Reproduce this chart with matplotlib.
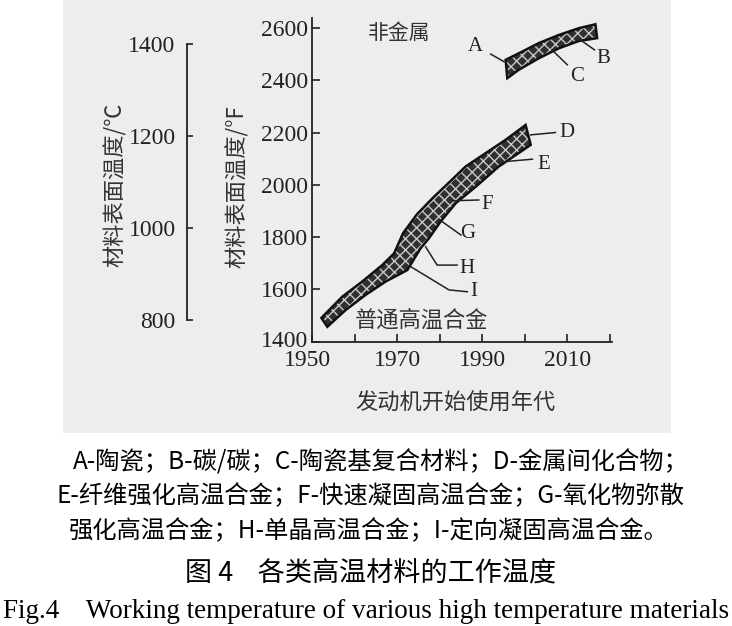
import numpy as np
import matplotlib
matplotlib.use('Agg')
import matplotlib.pyplot as plt
import matplotlib.transforms as mtransforms
from matplotlib.patches import Rectangle

cjk = ['Noto Sans CJK SC', 'DejaVu Sans']
serif = 'Liberation Serif'
ink = '#222222'

# ordinary superalloy band, year vs surface temperature (°F)
alloy_upper_year = [1952.2, 1957.1, 1961.8, 1966.5, 1969.3, 1971.4, 1974.7, 1978.7,
                    1982.6, 1986.1, 1990.8, 1995.5, 2000.2]
alloy_upper_temp = [1491, 1572, 1630, 1693, 1738, 1815, 1888, 1955,
                    2015, 2070, 2121, 2172, 2229]
alloy_lower_year = [1953.6, 1957.9, 1962.6, 1967.3, 1972.4, 1973.6, 1975.5, 1977.5,
                    1980.2, 1983.8, 1988.5, 1993.9, 1997.9, 2001.4]
alloy_lower_temp = [1457, 1521, 1579, 1630, 1674, 1706, 1757, 1796,
                    1859, 1930, 1993, 2070, 2114, 2153]

# non-metal band
ceramic_upper_year = [1995.5, 1998.6, 2003.3, 2008.0, 2012.7, 2016.6]
ceramic_upper_temp = [2478, 2503, 2542, 2573, 2599, 2614]
ceramic_lower_year = [1995.9, 1998.6, 2003.3, 2008.0, 2012.7, 2017.0]
ceramic_lower_temp = [2408, 2440, 2484, 2522, 2550, 2561]

# letter labels and their leader lines
labels = ['A', 'B', 'C', 'D', 'E', 'F', 'G', 'H', 'I']
label_pos = [(1988.4, 2528), (2018.4, 2484), (2012.3, 2414), (2010.0, 2199), (2004.5, 2076),
             (1991.2, 1923), (1986.5, 1815), (1986.5, 1681), (1988.1, 1591)]
leaders = [
    [(1992.0, 2500), (1995.1, 2471)],
    [(2013.1, 2554), (2016.4, 2516)],
    [(2006.4, 2516), (2010.0, 2459)],
    [(2001.4, 2191), (2007.2, 2200)],
    [(1995.5, 2089), (2001.8, 2098)],
    [(1983.0, 1939), (1989.2, 1942)],
    [(1980.6, 1859), (1985.0, 1808)],
    [(1976.7, 1763), (1979.4, 1693), (1984.1, 1693)],
    [(1973.2, 1687), (1982.2, 1598), (1986.5, 1591)],
]

year_ticks = [1950, 1960, 1970, 1980, 1990, 2000, 2010, 2020]
year_labels = ['1950', '', '1970', '', '1990', '', '2010', '']
f_ticks = [1400, 1600, 1800, 2000, 2200, 2400, 2600]
c_ticks = [800, 1000, 1200, 1400]

caption_lines = [
    'A-陶瓷；B-碳/碳；C-陶瓷基复合材料；D-金属间化合物；',
    'E-纤维强化高温合金；F-快速凝固高温合金；G-氧化物弥散',
    '强化高温合金；H-单晶高温合金；I-定向凝固高温合金。',
]
caption_x = [381, 370, 369]
title_cn = '图 4    各类高温材料的工作温度'
title_en = 'Fig.4    Working temperature of various high temperature materials'

W, H = 732, 626
fig = plt.figure(figsize=(W / 100, H / 100), dpi=100)
fig.patch.set_facecolor('white')
fig.patches.append(Rectangle((63 / W, 1 - 433 / H), (671 - 63) / W, 433 / H,
                             transform=fig.transFigure, facecolor='#ededed',
                             edgecolor='none', zorder=-5))

ax_bottom = 1 - 341.7 / H
ax_height = (341.7 - 18) / H
ax = fig.add_axes([312 / W, ax_bottom, 300 / W, ax_height])
ax.set_facecolor('none')
ax.set_xlim(1950, 2020.5)
ax.set_ylim(1400, 2638)
for s in ['top', 'right']:
    ax.spines[s].set_visible(False)
for s in ['left', 'bottom']:
    ax.spines[s].set_linewidth(1.3)
    ax.spines[s].set_color(ink)
ax.set_xticks(year_ticks)
ax.set_xticklabels(year_labels)
ax.set_yticks(f_ticks)
ax.tick_params(direction='in', length=6, width=1.2, color=ink, labelcolor=ink,
               labelsize=17)
ax.tick_params(axis='x', pad=6)
ax.tick_params(axis='y', pad=3)
for t in ax.get_xticklabels() + ax.get_yticklabels():
    t.set_family(serif)
# in the source the lowest °F label sits a little above its tick and 1950 a bit left
lift = mtransforms.ScaledTranslation(0, 3 / 100, fig.dpi_scale_trans)
ax.get_yticklabels()[0].set_transform(ax.get_yticklabels()[0].get_transform() + lift)
nudge = mtransforms.ScaledTranslation(-5 / 100, 0, fig.dpi_scale_trans)
ax.get_xticklabels()[0].set_transform(ax.get_xticklabels()[0].get_transform() + nudge)


def band(xu, yu, xl, yl):
    xs = list(xu) + list(xl[::-1])
    ys = list(yu) + list(yl[::-1])
    ax.fill(xs, ys, facecolor='#303030', edgecolor='#c8c8c8', hatch='xxx',
            linewidth=0, zorder=2)
    ax.fill(xs, ys, facecolor='none', edgecolor='#111111', linewidth=1.8, zorder=3)


band(alloy_upper_year, alloy_upper_temp, alloy_lower_year, alloy_lower_temp)
band(ceramic_upper_year, ceramic_upper_temp, ceramic_lower_year, ceramic_lower_temp)

for lab, pos, pts in zip(labels, label_pos, leaders):
    px, py = zip(*pts)
    ax.plot(px, py, color=ink, lw=1.1, zorder=4)
    ax.text(pos[0], pos[1], lab, family=serif, fontsize=15, color=ink,
            ha='center', va='center')

ax.text(1970.4, 2582, '非金属', family=cjk, fontsize=15, color='#333333',
        ha='center', va='center')
ax.text(1975.8, 1483, '普通高温合金', family=cjk, fontsize=16, color='#333333',
        ha='center', va='center')

# Celsius scale on the left
ax2 = fig.add_axes([186.7 / W, ax_bottom, 0.01, ax_height])
ax2.set_facecolor('none')
ax2.set_ylim(752.8, 1456.5)
for s in ['top', 'right', 'bottom']:
    ax2.spines[s].set_visible(False)
ax2.spines['left'].set_bounds(800, 1400)
ax2.spines['left'].set_linewidth(1.3)
ax2.spines['left'].set_color(ink)
ax2.set_xticks([])
ax2.set_yticks(c_ticks)
ax2.set_yticks([800, 1400], minor=True)
ax2.tick_params(axis='y', which='major', direction='in', length=4, width=1.2,
                color=ink, labelcolor=ink, labelsize=17, pad=8)
ax2.tick_params(axis='y', which='minor', direction='in', length=7, width=1.2,
                color=ink)
for t in ax2.get_yticklabels():
    t.set_family(serif)

fig.text(115 / W, 1 - 185 / H, '材料表面温度/℃', family=cjk, fontsize=16,
         color='#333333', rotation=90, ha='center', va='center')
fig.text(237 / W, 1 - 187 / H, '材料表面温度/°F', family=cjk, fontsize=16,
         color='#333333', rotation=90, ha='center', va='center')
fig.text(455 / W, 1 - 403 / H, '发动机开始使用年代', family=cjk, fontsize=16,
         color='#333333', ha='center', va='center')

# caption
for i, line in enumerate(caption_lines):
    fig.text(caption_x[i] / W, 1 - (462 + 34.5 * i) / H, line, family=cjk,
             fontsize=17.5, color='black', ha='center', va='center')
fig.text(371 / W, 1 - 574 / H, title_cn, family=cjk, fontsize=19.5,
         color='black', ha='center', va='center')
fig.text(366 / W, 1 - 612 / H, title_en, family=serif, fontsize=19.5,
         color='black', ha='center', va='center')

fig.savefig('out.png', dpi=100)
